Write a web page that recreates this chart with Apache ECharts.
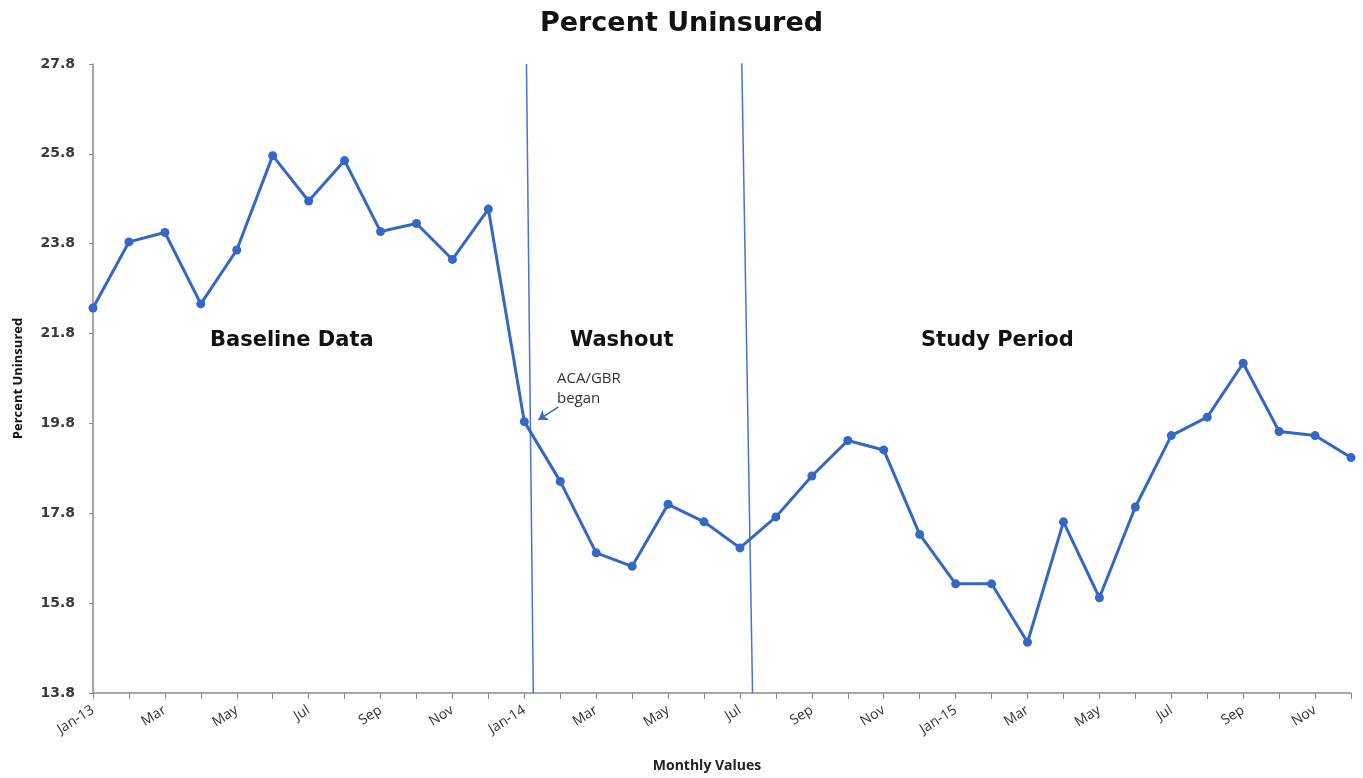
<!DOCTYPE html>
<html>
<head>
<meta charset="utf-8">
<script src="https://cdn.jsdelivr.net/npm/echarts@6/dist/echarts.min.js"></script>
<style>html,body{margin:0;padding:0;background:#fff}#c{width:1363px;height:778px}</style>
</head>
<body>
<div id="c"></div>
<script>
const months = ['Jan-13','Feb','Mar','Apr','May','Jun','Jul','Aug','Sep','Oct','Nov','Dec',
  'Jan-14','Feb','Mar','Apr','May','Jun','Jul','Aug','Sep','Oct','Nov','Dec',
  'Jan-15','Feb','Mar','Apr','May','Jun','Jul','Aug','Sep','Oct','Nov','Dec'];
const uninsured = [22.37,23.84,24.05,22.46,23.66,25.76,24.75,25.65,24.07,24.25,23.45,24.57,
  19.84,18.51,16.92,16.62,18.00,17.61,17.03,17.72,18.63,19.42,19.21,17.33,
  16.23,16.23,14.93,17.61,15.92,17.94,19.53,19.94,21.14,19.62,19.53,19.04];
const yTicks = {min: 13.8, max: 27.8, step: 2};
const aca = [[12.06, 27.8], [12.25, 13.8]];
const studyStart = [[18.05, 27.85], [18.35, 13.8]];
const arrow = [[12.95, 20.17], [12.39, 19.88]];
const regions = ['Baseline Data', 'Washout', 'Study Period'];

const chart = echarts.init(document.getElementById('c'));
const blue = '#3567c4';
const thin = '#4a72d6';
chart.setOption({
  animation: false,
  title: {
    text: 'Percent Uninsured', left: 'center', top: 5,
    textStyle: {fontFamily: 'DejaVu Sans', fontWeight: 'bold', fontSize: 27, color: '#111'}
  },
  grid: {left: 93, right: 12, top: 64, bottom: 83},
  xAxis: [{
    type: 'category', data: months, boundaryGap: false,
    name: 'Monthly Values', nameLocation: 'middle', nameGap: 66,
    nameTextStyle: {fontFamily: 'Open Sans', fontWeight: 'bold', fontSize: 14, color: '#222', padding: [0, 30, 0, 0]},
    axisLine: {lineStyle: {color: '#8a8a8a', width: 1.5}},
    axisTick: {interval: 0, length: 6, lineStyle: {color: '#8a8a8a'}},
    axisLabel: {interval: 1, rotate: 32, fontFamily: 'Open Sans', fontSize: 14, color: '#333', margin: 16}
  }, {
    type: 'value', min: 0, max: 35, show: false
  }],
  yAxis: {
    type: 'value', min: yTicks.min, max: yTicks.max, interval: yTicks.step,
    name: 'Percent Uninsured', nameLocation: 'middle', nameGap: 68,
    nameTextStyle: {fontFamily: 'Open Sans', fontWeight: 'bold', fontSize: 13, color: '#111'},
    splitLine: {show: false},
    axisLine: {show: true, lineStyle: {color: '#8a8a8a', width: 1.5}},
    axisTick: {show: true, length: 4, lineStyle: {color: '#8a8a8a'}},
    axisLabel: {formatter: v => v.toFixed(1), fontFamily: 'DejaVu Sans', fontWeight: 'bold', fontSize: 14, color: '#3a3a3a', margin: 18}
  },
  series: [{
    type: 'line', data: uninsured, symbol: 'circle', symbolSize: 9,
    lineStyle: {color: blue, width: 3}, itemStyle: {color: blue}, z: 5
  }, {
    type: 'line', xAxisIndex: 1, data: aca, symbol: 'none',
    lineStyle: {color: thin, width: 1.5}, z: 3
  }, {
    type: 'line', xAxisIndex: 1, data: studyStart, symbol: 'none',
    lineStyle: {color: thin, width: 1.5}, z: 3
  }, {
    type: 'line', xAxisIndex: 1, data: [], symbol: 'none',
    markLine: {
      silent: true, symbol: ['none', 'arrow'], symbolSize: 9,
      lineStyle: {color: blue, width: 1.5, type: 'solid'}, label: {show: false},
      data: [[{coord: arrow[0]}, {coord: arrow[1]}]]
    }
  }],
  graphic: [
    {type: 'text', left: 210, top: 330, style: {text: regions[0], font: 'bold 21px "DejaVu Sans"', fill: '#111'}},
    {type: 'text', left: 570, top: 330, style: {text: regions[1], font: 'bold 21px "DejaVu Sans"', fill: '#111'}},
    {type: 'text', left: 921, top: 330, style: {text: regions[2], font: 'bold 21px "DejaVu Sans"', fill: '#111'}},
    {type: 'text', left: 557, top: 369, style: {text: 'ACA/GBR\nbegan', font: '15px "Open Sans"', lineHeight: 20, fill: '#333'}}
  ]
});
</script>
</body>
</html>
